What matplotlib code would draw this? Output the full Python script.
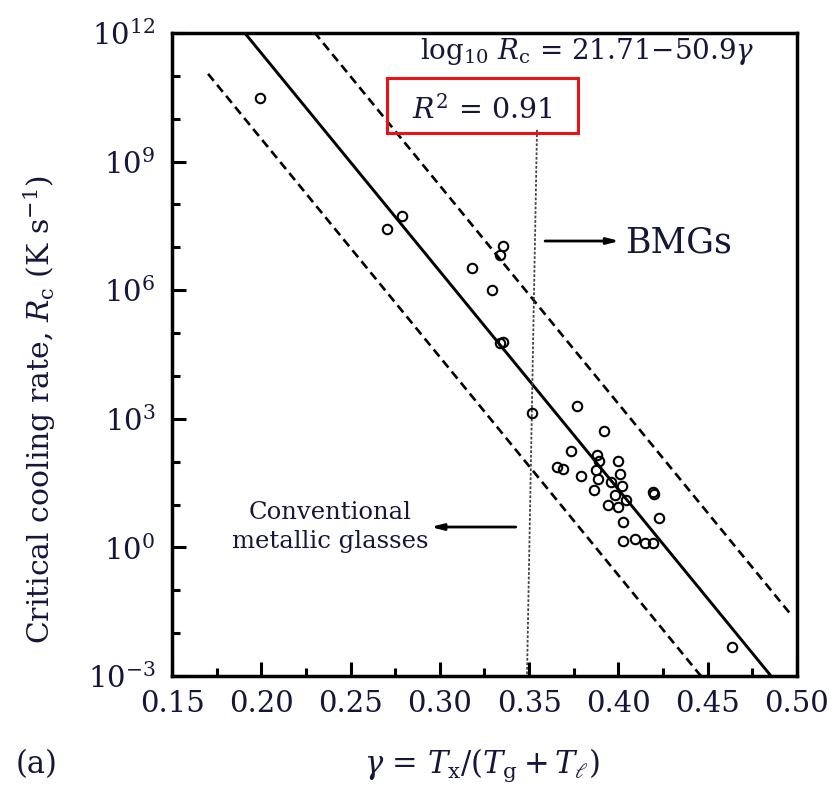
import matplotlib
matplotlib.use("Agg")
import matplotlib.pyplot as plt
import numpy as np
from matplotlib.patches import Rectangle
from matplotlib.ticker import FixedLocator, NullFormatter

# ---------------- data ----------------
gamma = [0.1993, 0.2702, 0.2786, 0.3178, 0.3290, 0.3337, 0.3355, 0.3337, 0.3352,
         0.3514, 0.3770, 0.3919, 0.3733, 0.3654, 0.3688, 0.3789, 0.3878, 0.3893,
         0.3874, 0.3999, 0.4009, 0.3887, 0.3957, 0.4018, 0.3865, 0.3981, 0.3943,
         0.3999, 0.4042, 0.4195, 0.4199, 0.4229, 0.4027, 0.4027, 0.4093, 0.4149,
         0.4195, 0.4634]
log_rc = [10.48, 7.42, 7.73, 6.51, 6.01, 6.82, 7.02, 4.76, 4.79,
          3.13, 3.30, 2.72, 2.25, 1.88, 1.83, 1.67, 2.16, 2.02,
          1.81, 2.02, 1.71, 1.59, 1.53, 1.44, 1.34, 1.22, 0.99,
          0.95, 1.11, 1.30, 1.25, 0.69, 0.59, 0.15, 0.19, 0.11,
          0.11, -2.32]

fit_intercept = 21.71
fit_slope = -50.9
band_offset = 2.0

x_ticks = [0.15, 0.20, 0.25, 0.30, 0.35, 0.40, 0.45, 0.50]
x_tick_labels = ["0.15", "0.20", "0.25", "0.30", "0.35", "0.40", "0.45", "0.50"]
y_exponents = [-3, 0, 3, 6, 9, 12]

# ---------------- style ----------------
TXT = "#16163a"
plt.rcParams["font.family"] = ["DejaVu Serif"]
plt.rcParams["mathtext.fontset"] = "dejavuserif"

fig = plt.figure(figsize=(8.36, 7.93), dpi=100)
ax = fig.add_axes([172 / 836, 1 - 676 / 793, 625 / 836, 643 / 793])

ax.set_xlim(0.15, 0.50)
ax.set_yscale("log")
ax.set_ylim(1e-3, 1e12)

# fit line and +/- band
g_fit = np.linspace(0.15, 0.50, 200)
ax.plot(g_fit, 10 ** (fit_intercept + fit_slope * g_fit), color="black", lw=2.1,
        solid_capstyle="butt")
g_up = np.linspace(0.15, 0.496, 200)
ax.plot(g_up, 10 ** (fit_intercept + band_offset + fit_slope * g_up), color="black",
        lw=1.9, dashes=(3.4, 2.0))
g_lo = np.linspace(0.1702, 0.50, 200)
ax.plot(g_lo, 10 ** (fit_intercept - band_offset + fit_slope * g_lo), color="black",
        lw=1.9, dashes=(3.4, 2.0))

# divider line
ax.plot([0.3544, 0.3488], [10 ** 9.74, 1e-3], color="#444444", lw=1.3,
        dashes=(1.5, 1.0))

# data
ax.plot(gamma, 10 ** np.array(log_rc), linestyle="none", marker="o", ms=6.8,
        mfc="none", mec="black", mew=1.5)

# ticks
ax.xaxis.set_major_locator(FixedLocator(x_ticks))
ax.set_xticklabels(x_tick_labels)
ax.xaxis.set_minor_locator(FixedLocator(np.arange(0.175, 0.50, 0.05)))
ax.yaxis.set_major_locator(FixedLocator([10.0 ** e for e in y_exponents]))
ax.set_yticklabels([r"$10^{%d}$" % e for e in y_exponents])
ax.yaxis.set_minor_locator(FixedLocator([10.0 ** e for e in range(-3, 13)]))
ax.yaxis.set_minor_formatter(NullFormatter())
ax.tick_params(which="both", direction="in", top=False, right=False,
               width=2.2, colors="black", labelcolor=TXT)
ax.tick_params(axis="x", labelsize=21, pad=10)
ax.tick_params(axis="y", labelsize=21, pad=12)
ax.tick_params(which="major", length=10)
ax.tick_params(which="minor", length=6)
for sp in ax.spines.values():
    sp.set_linewidth(2.5)

# annotations
ax.text(0.397, 0.972, r"log$_{10}$ $R_{\mathrm{c}}$ = 21.71$-$50.9$\gamma$",
        transform=ax.transAxes, ha="left", va="center", fontsize=20, color=TXT)
ax.text(0.496, 0.881, r"$R^2$ = 0.91", transform=ax.transAxes, ha="center",
        va="center", fontsize=20.5, color=TXT)
ax.add_patch(Rectangle((0.344, 0.8445), 0.3056, 0.0855, transform=ax.transAxes,
                       fill=False, edgecolor="#ee1111", lw=2.2, clip_on=False,
                       zorder=5))

ax.annotate("", xy=(0.716, 0.6765), xytext=(0.597, 0.6765),
            xycoords="axes fraction",
            arrowprops=dict(arrowstyle="-|>,head_length=0.7,head_width=0.18",
                            color="black", lw=2.0, shrinkA=0, shrinkB=0))
ax.text(0.725, 0.6735, "BMGs", transform=ax.transAxes, ha="left", va="center",
        fontsize=25, color=TXT)

ax.annotate("", xy=(0.414, 0.2317), xytext=(0.550, 0.2317),
            xycoords="axes fraction",
            arrowprops=dict(arrowstyle="-|>,head_length=0.7,head_width=0.18",
                            color="black", lw=2.0, shrinkA=0, shrinkB=0))
ax.text(0.253, 0.2317, "Conventional\nmetallic glasses", transform=ax.transAxes,
        ha="center", va="center", fontsize=17.5, color=TXT, linespacing=1.35)

fig.text(40 / 836, 1 - 410 / 793,
         r"Critical cooling rate, $R_{\mathrm{c}}$ (K s$^{-1}$)",
         rotation=90, ha="center", va="center", fontsize=21.5, color=TXT)
fig.text(482 / 836, 1 - 765 / 793,
         r"$\gamma$ = $T_{\mathrm{x}}/(T_{\mathrm{g}} + T_{\ell})$",
         ha="center", va="center", fontsize=22, color=TXT)
fig.text(37 / 836, 1 - 765 / 793, "(a)", ha="center", va="center",
         fontsize=22, color=TXT)

fig.savefig("out.png", dpi=100)
